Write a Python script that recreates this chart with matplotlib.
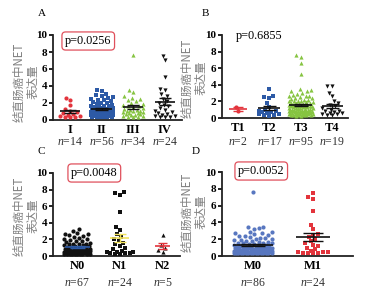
import numpy as np
import matplotlib
matplotlib.use("Agg")
import matplotlib.pyplot as plt

plt.rcParams['font.family'] = ['Liberation Serif', 'DejaVu Serif']
plt.rcParams['mathtext.fontset'] = 'custom'
plt.rcParams['mathtext.it'] = 'Liberation Serif:italic'
plt.rcParams['mathtext.rm'] = 'Liberation Serif'

# ---- data ----
a_groups = ['I', 'II', 'III', 'IV']
a_n = [14, 56, 34, 24]
a_I = [2.6, 2.4, 1.8, 1.3, 1.1, 0.9, 0.8, 0.7, 0.6, 0.5, 0.5, 0.4, 0.4, 0.4]
a_II = [3.5, 3.4, 3.1, 2.9, 2.8, 2.7, 2.6, 2.5, 2.4, 2.3, 2.2, 2.1, 2.0, 2.0,
        1.9, 1.8, 1.7, 1.7, 1.6, 1.5, 1.5, 1.4, 1.4, 1.3, 1.3, 1.2, 1.2, 1.1,
        1.1, 1.0, 1.0, 0.9, 0.9, 0.9, 0.8, 0.8, 0.8, 0.7, 0.7, 0.7, 0.6, 0.6,
        0.6, 0.6, 0.5, 0.5, 0.5, 0.5, 0.5, 0.4, 0.4, 0.4, 0.4, 0.3, 0.3, 0.3]
a_III = [7.6, 3.5, 3.3, 2.8, 2.6, 2.5, 2.4, 2.2, 2.0, 1.9, 1.8, 1.7, 1.6, 1.5,
         1.4, 1.3, 1.2, 1.2, 1.1, 1.0, 1.0, 0.9, 0.9, 0.8, 0.8, 0.7, 0.7, 0.6,
         0.6, 0.5, 0.5, 0.4, 0.4, 0.3]
a_IV = [7.5, 7.0, 5.0, 3.6, 3.5, 3.0, 2.8, 2.5, 2.2, 2.0, 1.8, 1.6, 1.4, 1.2,
        1.0, 0.9, 0.8, 0.7, 0.6, 0.5, 0.5, 0.4, 0.3, 0.3]

b_groups = ['T1', 'T2', 'T3', 'T4']
b_n = [2, 17, 95, 19]
b_T1 = [1.3, 0.8]
b_T2 = [3.5, 2.7, 2.5, 2.4, 1.8, 1.3, 1.0, 0.9, 0.8, 0.7, 0.7, 0.6, 0.5, 0.5,
        0.4, 0.4, 0.3]
b_T3 = [7.6, 7.4, 6.6, 5.3, 3.5, 3.4, 3.3, 3.2, 3.0, 2.9,
        2.8, 2.7, 2.6, 2.5, 2.4, 2.3, 2.2, 2.1, 2.0, 2.0,
        1.9, 1.9, 1.8, 1.8, 1.7, 1.7, 1.6, 1.6, 1.5, 1.5,
        1.4, 1.4, 1.4, 1.3, 1.3, 1.3, 1.2, 1.2, 1.2, 1.1,
        1.1, 1.1, 1.0, 1.0, 1.0, 1.0, 0.9, 0.9, 0.9, 0.9,
        0.8, 0.8, 0.8, 0.8, 0.8, 0.7, 0.7, 0.7, 0.7, 0.7,
        0.6, 0.6, 0.6, 0.6, 0.6, 0.6, 0.5, 0.5, 0.5, 0.5,
        0.5, 0.5, 0.5, 0.4, 0.4, 0.4, 0.4, 0.4, 0.4, 0.3,
        2.6, 2.4, 2.2, 2.0, 1.8, 1.6, 1.5, 1.4, 1.2, 1.0,
        0.9, 0.8, 0.6, 0.5, 0.3]
b_T4 = [3.8, 3.8, 3.0, 2.6, 2.0, 1.8, 1.6, 1.4, 1.2, 1.0, 0.9, 0.8, 0.7, 0.6,
        0.6, 0.5, 0.5, 0.4, 0.4]

c_groups = ['N0', 'N1', 'N2']
c_n = [67, 24, 5]
c_N0 = [3.3, 3.0, 2.8, 2.7, 2.6, 2.5, 2.4, 2.3, 2.2, 2.1,
        2.0, 1.9, 1.8, 1.8, 1.7, 1.6, 1.5, 1.5, 1.4, 1.4,
        1.3, 1.3, 1.2, 1.2, 1.1, 1.1, 1.0, 1.0, 1.0, 0.9,
        0.9, 0.9, 0.8, 0.8, 0.8, 0.8, 0.7, 0.7, 0.7, 0.7,
        0.6, 0.6, 0.6, 0.6, 0.6, 0.5, 0.5, 0.5, 0.5, 0.5,
        0.5, 0.4, 0.4, 0.4, 0.4, 0.4, 0.4, 0.3, 0.3, 0.3,
        0.3, 0.3, 0.3, 0.3, 0.3, 0.3, 0.3]
c_N1 = [7.7, 7.6, 7.4, 5.3, 3.5, 3.1, 2.6, 2.3, 2.0, 1.8, 1.6, 1.4, 1.2, 1.0,
        0.8, 0.6, 0.5, 0.5, 0.5, 0.4, 0.4, 0.4, 0.3, 0.3]
c_N2 = [2.5, 1.3, 1.0, 0.7, 0.5]

d_groups = ['M0', 'M1']
d_n = [86, 24]
d_M0 = [7.6, 3.5, 3.4, 3.3, 3.2, 2.9, 2.8, 2.7, 2.7, 2.6,
        2.5, 2.4, 2.4, 2.3, 2.2, 2.1, 2.0, 2.0, 1.9, 1.9,
        1.8, 1.8, 1.7, 1.7, 1.6, 1.6, 1.5, 1.5, 1.4, 1.4,
        1.3, 1.3, 1.3, 1.2, 1.2, 1.2, 1.1, 1.1, 1.1, 1.0,
        1.0, 1.0, 1.0, 0.9, 0.9, 0.9, 0.9, 0.8, 0.8, 0.8,
        0.8, 0.8, 0.7, 0.7, 0.7, 0.7, 0.7, 0.6, 0.6, 0.6,
        0.6, 0.6, 0.6, 0.5, 0.5, 0.5, 0.5, 0.5, 0.5, 0.5,
        0.4, 0.4, 0.4, 0.4, 0.4, 0.4, 0.4, 0.3, 0.3, 0.3,
        0.3, 0.3, 0.3, 0.3, 0.3, 0.3]
d_M1 = [7.5, 7.0, 6.8, 5.3, 3.7, 3.2, 2.6, 2.5, 2.3, 2.0, 1.8, 1.5, 1.3, 1.2,
        1.0, 0.8, 0.6, 0.5, 0.5, 0.5, 0.4, 0.4, 0.4, 0.3]

p_text = ['p=0.0256', 'p=0.6855', 'p=0.0048', 'p=0.0052']

RED = '#e3343c'
BLUE = '#2d5aa6'
LBLUE = '#5877c0'
GREEN = '#86c441'
BLACK = '#111111'
YELLOW = '#f2e35c'

ylab = '结直肠癌中NET\n表达量'

W, H = 377, 297
fig = plt.figure(figsize=(W / 100, H / 100), dpi=100)


def swarm(ax, x0, vals, hw_max, d=4.6):
    # beeswarm in pixel space, offsets kept inside +-hw_max
    px0 = ax.transData.transform((x0, 0))[0]
    cands = np.arange(-hw_max, hw_max + 0.01, 0.5)
    cands = cands[np.argsort(np.abs(cands), kind='stable')]
    placed = np.empty((0, 2))
    xs = []
    for v in vals:
        py = ax.transData.transform((x0, v))[1]
        if len(placed):
            dist = np.sqrt((cands[:, None] + px0 - placed[None, :, 0]) ** 2
                           + (py - placed[None, :, 1]) ** 2).min(axis=1)
            ok = np.where(dist >= d)[0]
            c = cands[ok[0]] if len(ok) else cands[np.argmax(dist)]
        else:
            c = 0.0
        placed = np.vstack([placed, [px0 + c, py]])
        xs.append(ax.transData.inverted().transform((px0 + c, py))[0])
    return np.array(xs)


def panel(rect, groups, series, markers, colors, linecolors, ns, letter, letter_xy,
          ptxt, p_xy, boxed, hws, mws, xlim, n_y, lab_xy):
    ax = fig.add_axes(rect)
    ax.set_xlim(*xlim)
    ax.set_ylim(0, 10)
    ppu = ax.transData.transform((1, 0))[0] - ax.transData.transform((0, 0))[0]
    for i, vals in enumerate(series):
        v = np.array(sorted(vals))
        xs = swarm(ax, i, v, hws[i])
        ax.scatter(xs, v, s=9, marker=markers[i], color=colors[i],
                   linewidths=0, zorder=3, clip_on=False)
        m = v.mean()
        se = v.std(ddof=1) / np.sqrt(len(v))
        lc = linecolors[i]
        mw = mws[i] / ppu
        ax.hlines(m, i - mw, i + mw, color=lc, lw=1.2, zorder=4)
        ax.hlines([m - se, m + se], i - mw * 0.6, i + mw * 0.6, color=lc, lw=1.0, zorder=4)
        ax.vlines(i, m - se, m + se, color=lc, lw=1.0, zorder=4)
    for s in ['top', 'right']:
        ax.spines[s].set_visible(False)
    for s in ['left', 'bottom']:
        ax.spines[s].set_linewidth(1.3)
        ax.spines[s].set_color('#222222')
    ax.set_yticks(range(0, 11, 2))
    ax.set_yticklabels([str(t) for t in range(0, 11, 2)], fontsize=8, fontweight='bold')
    ax.tick_params(axis='y', length=3, width=1.2, pad=1)
    ax.set_xticks(range(len(groups)))
    ax.set_xticklabels(groups, fontsize=9, fontweight='bold')
    ax.tick_params(axis='x', length=0, pad=3)
    fig.text(lab_xy[0] / W, 1 - lab_xy[1] / H, ylab, family=['Noto Sans CJK SC', 'DejaVu Sans'],
             fontsize=8.3, color='#808080', linespacing=1.0, rotation=90,
             ha='center', va='center', multialignment='center', rotation_mode='anchor')
    for i, n in enumerate(ns):
        px = ax.transData.transform((i, 0))[0] / W
        fig.text(px, 1 - n_y / H, r'$\mathit{n}$=%d' % n, fontsize=8.5,
                 ha='center', va='center', color='#333333')
    fig.text(letter_xy[0] / W, 1 - letter_xy[1] / H, letter, fontsize=8,
             ha='left', va='center')
    kw = {}
    if boxed:
        kw['bbox'] = dict(boxstyle='round,pad=0.25,rounding_size=0.3', fc='white',
                          ec='#e0505c', lw=0.9)
    fig.text(p_xy[0] / W, 1 - p_xy[1] / H, ptxt, fontsize=8.8, ha='left',
             va='center', **kw)
    return ax


panel([53 / W, 1 - 120 / H, 129 / W, 85 / H], a_groups, [a_I, a_II, a_III, a_IV],
      ['o', 's', '^', 'v'], [RED, BLUE, GREEN, BLACK], [BLACK] * 4, a_n,
      'A', (38, 13), p_text[0], (65, 41), True,
      [10, 11, 10, 10], [10, 10.5, 10, 10], (-0.54, 3.54), 142, (26, 82))
panel([222 / W, 1 - 118 / H, 126 / W, 83 / H], b_groups, [b_T1, b_T2, b_T3, b_T4],
      ['o', 's', '^', 'v'], [RED, BLUE, GREEN, BLACK], [RED, BLACK, BLACK, BLACK], b_n,
      'B', (202, 13), p_text[1], (236, 36), False,
      [4, 10, 12, 10], [9, 11, 11.5, 10.5], (-0.51, 3.5), 142, (194, 78))
panel([53 / W, 1 - 256 / H, 127 / W, 83 / H], c_groups, [c_N0, c_N1, c_N2],
      ['o', 's', '^'], [BLACK, BLACK, BLACK], [BLUE, YELLOW, RED], c_n,
      'C', (38, 151), p_text[2], (71, 173), True,
      [13, 13, 7], [12.5, 9.5, 7.5], (-0.57, 2.41), 283, (26, 216))
panel([222 / W, 1 - 256 / H, 131 / W, 84 / H], d_groups, [d_M0, d_M1],
      ['o', 's'], [LBLUE, RED], [BLACK, BLACK], d_n,
      'D', (192, 151), p_text[3], (238, 171), True,
      [19, 17], [20, 17], (-0.52, 1.67), 283, (194, 212))

fig.savefig('out.png', dpi=100)
